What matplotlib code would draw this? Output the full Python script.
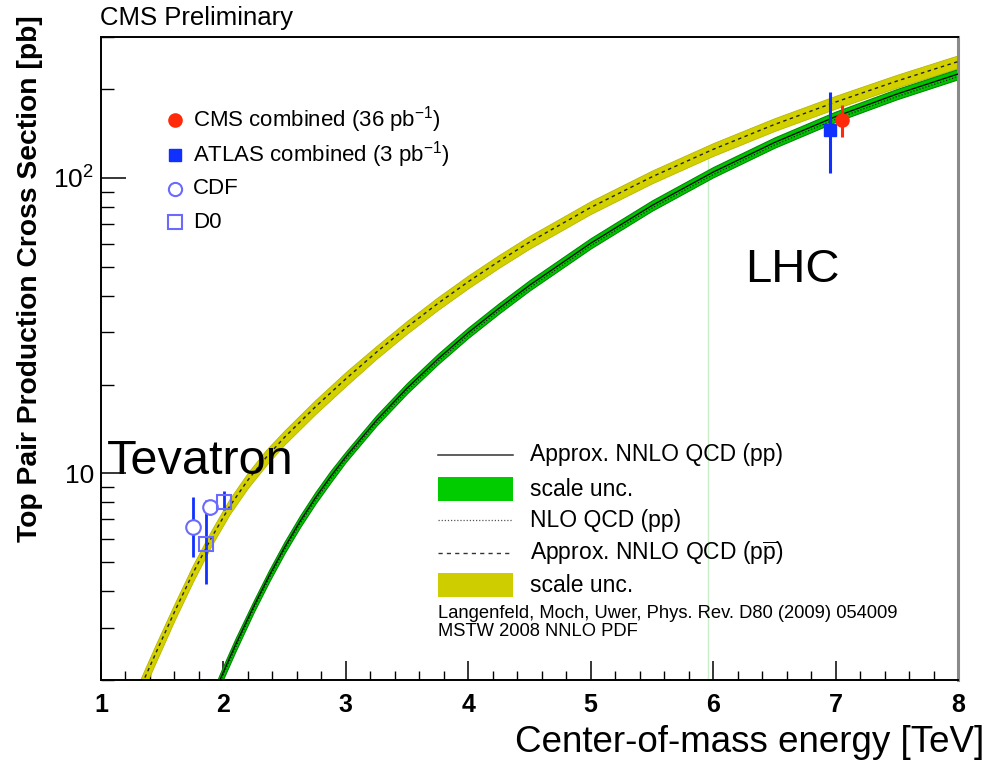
import matplotlib
matplotlib.use("Agg")
import matplotlib.pyplot as plt
from matplotlib.lines import Line2D
from matplotlib.patches import Rectangle
from matplotlib.ticker import FixedLocator, FixedFormatter, MultipleLocator
import numpy as np

plt.rcParams['font.family'] = ['Liberation Sans', 'DejaVu Sans']
plt.rcParams['mathtext.fontset'] = 'custom'
plt.rcParams['mathtext.rm'] = 'Liberation Sans'
plt.rcParams['mathtext.it'] = 'Liberation Sans:italic'
plt.rcParams['mathtext.bf'] = 'Liberation Sans:bold'

# ---- data ----
# p-pbar (Tevatron) approx. NNLO, band = relative scale uncertainty
ppbar_e = [1.20, 1.30, 1.35, 1.45, 1.60, 1.75, 1.90, 2.05, 2.20, 2.35, 2.50,
           2.75, 3.00, 3.25, 3.50, 3.75, 4.00, 4.25, 4.50, 5.00, 5.50, 6.00,
           6.50, 7.00, 7.50, 8.00]
ppbar_xs = [1.44, 1.79, 2.00, 2.48, 3.40, 4.59, 6.04, 7.73, 9.50, 11.35, 13.27,
            16.79, 20.91, 25.73, 31.30, 37.58, 44.57, 52.24, 60.67, 79.5, 100.9, 125.0,
            151.7, 180.7, 212.8, 247.7]
ppbar_unc = [0.07, 0.07, 0.07, 0.07, 0.065, 0.065, 0.06, 0.06, 0.06, 0.06, 0.055,
             0.055, 0.055, 0.05, 0.05, 0.05, 0.05, 0.05, 0.05, 0.05, 0.05, 0.05,
             0.05, 0.05, 0.05, 0.05]

# p-p (LHC) approx. NNLO and NLO
pp_e = [1.85, 1.90, 2.00, 2.10, 2.25, 2.375, 2.50, 2.625, 2.75, 2.875, 3.00,
        3.25, 3.50, 3.75, 4.00, 4.25, 4.50, 5.00, 5.50, 6.00, 6.50, 7.00,
        7.50, 8.00]
pp_xs = [1.51, 1.70, 2.13, 2.64, 3.57, 4.52, 5.63, 6.88, 8.26, 9.76, 11.40,
         15.13, 19.45, 24.37, 29.98, 36.22, 43.34, 60.15, 80.69, 104.7, 131.8, 161.3,
         192.3, 224.8]
pp_nlo_xs = [1.48, 1.67, 2.09, 2.58, 3.50, 4.43, 5.52, 6.75, 8.09, 9.56, 11.17,
             14.83, 19.06, 23.88, 29.38, 35.50, 42.47, 58.95, 79.08, 102.6, 129.2, 158.1,
             188.5, 220.3]
pp_unc = [0.05, 0.05, 0.05, 0.05, 0.045, 0.045, 0.045, 0.045, 0.045, 0.045, 0.04,
          0.04, 0.04, 0.04, 0.04, 0.04, 0.04, 0.04, 0.04, 0.04, 0.04, 0.04,
          0.04, 0.04]

# measurements: energy (shifted for display), value, lower, upper
cms_e, cms_xs, cms_lo, cms_hi = 7.056, 157.0, 138.0, 176.0
atlas_e, atlas_xs, atlas_lo, atlas_hi = 6.956, 145.0, 104.0, 195.0
cdf_e = [1.748, 1.890]
cdf_xs = [6.59, 7.69]
cdf_lo = [5.22, 7.25]
cdf_hi = [8.31, 8.15]
d0_e = [1.855, 2.005]
d0_xs = [5.79, 7.99]
d0_lo = [4.21, 7.50]
d0_hi = [8.12, 8.70]

line_x, line_top = 5.96, 121.0

yellow = '#d3d000'
yellow_edge = '#b8b600'
green = '#00c400'
green_edge = '#008a00'
blue = '#1030ff'
open_blue = '#6a6aff'
red = '#ff2a0a'

W, H = 1006, 762
fig = plt.figure(figsize=(W / 100, H / 100), dpi=100)


def fx(px):
    return px / W


def fy(py):
    return 1 - py / H


ax = fig.add_axes([fx(101), fy(680), fx(958) - fx(101), fy(37) - fy(680)])

ax.plot([line_x, line_x], [2, line_top], color='#c9eec9', lw=1, zorder=1)

ppbar_e_a = np.array(ppbar_e)
ppbar_xs_a = np.array(ppbar_xs)
ppbar_unc_a = np.array(ppbar_unc)
ax.fill_between(ppbar_e_a, ppbar_xs_a * (1 - ppbar_unc_a), ppbar_xs_a * (1 + ppbar_unc_a),
                facecolor=yellow, edgecolor=yellow_edge, lw=0.6, zorder=2)
ax.plot(ppbar_e, ppbar_xs, color='#222222', lw=1.0, ls=(0, (2.5, 2.5)), zorder=3)

pp_e_a = np.array(pp_e)
pp_xs_a = np.array(pp_xs)
pp_unc_a = np.array(pp_unc)
ax.fill_between(pp_e_a, pp_xs_a * (1 - pp_unc_a), pp_xs_a * (1 + pp_unc_a),
                facecolor=green, edgecolor=green_edge, lw=0.8, zorder=2)
ax.plot(pp_e, pp_nlo_xs, color='#222222', lw=0.9, ls=(0, (1, 1.5)), zorder=3)
ax.plot(pp_e, pp_xs, color='black', lw=0.9, zorder=3)

# measurements
ax.errorbar(cdf_e, cdf_xs,
            yerr=[np.array(cdf_xs) - np.array(cdf_lo), np.array(cdf_hi) - np.array(cdf_xs)],
            fmt='none', ecolor=blue, elinewidth=2, capsize=0, zorder=4)
ax.errorbar(d0_e, d0_xs,
            yerr=[np.array(d0_xs) - np.array(d0_lo), np.array(d0_hi) - np.array(d0_xs)],
            fmt='none', ecolor=blue, elinewidth=2, capsize=0, zorder=4)
ax.plot(cdf_e, cdf_xs, 'o', ms=10.5, mfc='white', mec=open_blue, mew=1.5, zorder=5)
ax.plot(d0_e, d0_xs, 's', ms=10.5, mfc='none', mec=open_blue, mew=1.5, zorder=5)

ax.errorbar([atlas_e], [atlas_xs], yerr=[[atlas_xs - atlas_lo], [atlas_hi - atlas_xs]],
            fmt='s', color=blue, ms=9, elinewidth=2.2, capsize=0, zorder=6)
ax.errorbar([cms_e], [cms_xs], yerr=[[cms_xs - cms_lo], [cms_hi - cms_xs]],
            fmt='o', color=red, ms=9.5, elinewidth=2.2, capsize=0, zorder=6)

ax.set_yscale('log')
ax.set_xlim(1, 8)
ax.set_ylim(2, 300)

ax.xaxis.set_major_locator(FixedLocator([1, 2, 3, 4, 5, 6, 7, 8]))
ax.xaxis.set_minor_locator(MultipleLocator(0.2))
ax.yaxis.set_major_locator(FixedLocator([10, 100]))
ax.yaxis.set_major_formatter(FixedFormatter(['10', r'10$^{2}$']))
ax.yaxis.set_minor_locator(FixedLocator([2, 3, 4, 5, 6, 7, 8, 9, 20, 30, 40, 50, 60, 70, 80, 90, 200, 300]))
ax.yaxis.set_minor_formatter(FixedFormatter([]))

ax.tick_params(axis='x', which='major', direction='in', length=14, width=1.1,
               labelsize=18, pad=9, top=False)
ax.tick_params(axis='x', which='minor', direction='in', length=6.5, width=1.0, top=False)
ax.tick_params(axis='y', which='major', direction='in', length=18, width=1.1,
               labelsize=19, pad=5, right=False)
ax.tick_params(axis='y', which='minor', direction='in', length=9.5, width=1.0, right=False)
for lab in ax.get_xticklabels():
    lab.set_fontweight('bold')

for side in ['left', 'bottom', 'top']:
    ax.spines[side].set_linewidth(1.4)
ax.spines['right'].set_linewidth(2.2)
ax.spines['right'].set_color('#8a8a8a')

# texts
fig.text(fx(100), fy(18), 'CMS Preliminary', fontsize=18.5, ha='left', va='center')
fig.text(fx(30), fy(15), 'Top Pair Production Cross Section [pb]', fontsize=20.3,
         fontweight='bold', rotation=90, ha='center', va='top')
fig.text(fx(984), fy(742), 'Center-of-mass energy [TeV]', fontsize=26.5, ha='right', va='center')
fig.text(fx(107), fy(462), 'Tevatron', fontsize=35, ha='left', va='center')
fig.text(fx(745), fy(270), 'LHC', fontsize=34, ha='left', va='center')

# upper-left legend
mk_x = 175
tx_x = 193
fig.add_artist(Line2D([fx(mk_x)], [fy(120)], marker='o', ms=9.5, color=red, ls='none'))
fig.add_artist(Line2D([fx(mk_x)], [fy(155)], marker='s', ms=8.5, color=blue, ls='none'))
fig.add_artist(Line2D([fx(mk_x)], [fy(189)], marker='o', ms=9.5, mfc='white', mec=open_blue,
                      mew=1.5, ls='none'))
fig.add_artist(Line2D([fx(mk_x)], [fy(222)], marker='s', ms=9.5, mfc='white', mec=open_blue,
                      mew=1.5, ls='none'))
fig.text(fx(tx_x), fy(120), r'CMS combined (36 pb$^{-1}$)', fontsize=16, ha='left', va='center')
fig.text(fx(tx_x), fy(155), r'ATLAS combined (3 pb$^{-1}$)', fontsize=16, ha='left', va='center')
fig.text(fx(tx_x), fy(189), 'CDF', fontsize=16, ha='left', va='center')
fig.text(fx(tx_x), fy(222), 'D0', fontsize=16, ha='left', va='center')

# lower-right legend
lx0, lx1, ltx = 438, 513, 530
fig.add_artist(Line2D([fx(lx0), fx(lx1)], [fy(455), fy(455)], color='#333333', lw=1.1))
fig.add_artist(Rectangle((fx(lx0), fy(501)), fx(lx1) - fx(lx0), (501 - 477) / H,
                         facecolor='#00cc00', edgecolor='none'))
fig.add_artist(Line2D([fx(lx0), fx(lx1)], [fy(520), fy(520)], color='#555555', lw=0.9,
                      ls=(0, (1, 1.5))))
fig.add_artist(Line2D([fx(lx0), fx(lx1)], [fy(553), fy(553)], color='#333333', lw=1.0,
                      ls=(0, (3, 3))))
fig.add_artist(Rectangle((fx(lx0), fy(597)), fx(lx1) - fx(lx0), (597 - 573) / H,
                         facecolor='#cdcd00', edgecolor='none'))
fig.text(fx(ltx), fy(455), 'Approx. NNLO QCD (pp)', fontsize=16.5, ha='left', va='center')
fig.text(fx(ltx), fy(489), 'scale unc.', fontsize=16.5, ha='left', va='center')
fig.text(fx(ltx), fy(520), 'NLO QCD (pp)', fontsize=16.5, ha='left', va='center')
fig.text(fx(ltx), fy(553), r'Approx. NNLO QCD (p$\overline{\mathrm{p}}$)', fontsize=16.5,
         ha='left', va='center')
fig.text(fx(ltx), fy(585), 'scale unc.', fontsize=16.5, ha='left', va='center')
fig.text(fx(438), fy(613), 'Langenfeld, Moch, Uwer, Phys. Rev. D80 (2009) 054009',
         fontsize=13.2, ha='left', va='center')
fig.text(fx(438), fy(632), 'MSTW 2008 NNLO PDF', fontsize=13.2, ha='left', va='center')

fig.savefig('out.png', dpi=100)
